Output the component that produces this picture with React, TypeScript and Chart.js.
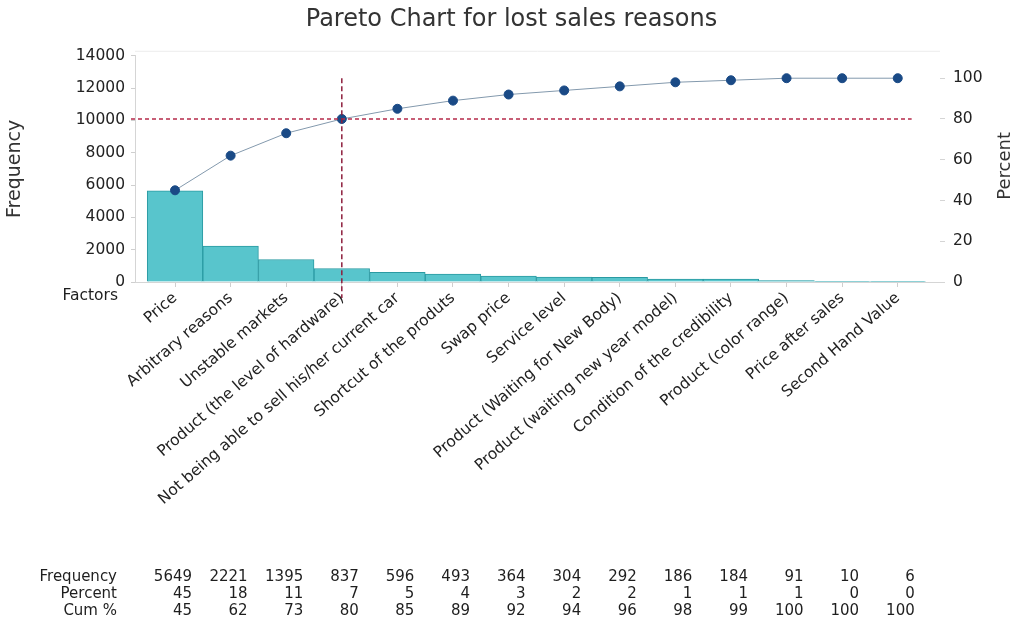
import React, { useEffect, useRef } from "react";
import { Chart, registerables } from "chart.js";

Chart.register(...registerables);

const categories = [
  "Price",
  "Arbitrary reasons",
  "Unstable markets",
  "Product (the level of hardware)",
  "Not being able to sell his/her current car",
  "Shortcut of the produts",
  "Swap price",
  "Service level",
  "Product (Waiting for New Body)",
  "Product (waiting new year model)",
  "Condition of the credibility",
  "Product (color range)",
  "Price after sales",
  "Second Hand Value",
];
const frequency = [5649, 2221, 1395, 837, 596, 493, 364, 304, 292, 186, 184, 91, 10, 6];
const percent = [45, 18, 11, 7, 5, 4, 3, 2, 2, 1, 1, 1, 0, 0];
const cumPercent = [45, 62, 73, 80, 85, 89, 92, 94, 96, 98, 99, 100, 100, 100];
const freqTicks = { min: 0, max: 14000, step: 2000 };
const pctTicks = { min: 0, max: 111, step: 20 };
const thresholdPct = 80;
const thresholdIndex = 3;
const tableRows = ["Frequency", "Percent", "Cum %"];

const FONT = "'DejaVu Sans', sans-serif";

export default function App() {
  const ref = useRef<HTMLCanvasElement | null>(null);

  useEffect(() => {
    if (!ref.current) return;
    Chart.defaults.font.family = FONT;

    const overlay = {
      id: "overlay",
      afterDatasetsDraw(chart: any) {
        const { ctx, chartArea } = chart;
        const x = chart.scales.x;
        const y2 = chart.scales.y2;
        ctx.save();
        const hy = y2.getPixelForValue(thresholdPct);
        ctx.strokeStyle = "#b52a4a";
        ctx.lineWidth = 1.5;
        ctx.setLineDash([4, 3]);
        ctx.beginPath();
        ctx.moveTo(chartArea.left - 4, hy);
        ctx.lineTo(x.getPixelForValue(categories.length - 0.75), hy);
        ctx.stroke();
        const vx = x.getPixelForValue(thresholdIndex);
        ctx.strokeStyle = "#8e1f3e";
        ctx.setLineDash([5, 3]);
        ctx.beginPath();
        ctx.moveTo(vx, y2.getPixelForValue(100));
        ctx.lineTo(vx, chartArea.bottom + 16);
        ctx.stroke();
        ctx.restore();
      },
      afterDraw(chart: any) {
        const { ctx, chartArea } = chart;
        const x = chart.scales.x;
        ctx.save();
        ctx.fillStyle = "#1e1e1e";
        ctx.font = `15.5px ${FONT}`;
        ctx.textAlign = "right";
        ctx.textBaseline = "middle";
        ctx.fillText("Factors", 118, chartArea.bottom + 14);
        ctx.save();
        ctx.translate(1005, (chartArea.top + chartArea.bottom) / 2 - 3);
        ctx.rotate(-Math.PI / 2);
        ctx.textAlign = "center";
        ctx.font = `18px ${FONT}`;
        ctx.fillStyle = "#333";
        ctx.fillText("Percent", 0, 0);
        ctx.restore();
        const rowsData = [frequency, percent, cumPercent];
        const rowY = [577, 594, 611];
        ctx.font = `15px ${FONT}`;
        tableRows.forEach((label, r) => {
          ctx.textAlign = "right";
          ctx.fillText(label, 117, rowY[r]);
          rowsData[r].forEach((v, i) => {
            ctx.fillText(String(v), x.getPixelForValue(i) + 17, rowY[r]);
          });
        });
        ctx.strokeStyle = "#ececec";
        ctx.lineWidth = 1;
        ctx.beginPath();
        ctx.moveTo(chartArea.left, chartArea.top - 4.5);
        ctx.lineTo(chartArea.right, chartArea.top - 4.5);
        ctx.stroke();
        ctx.restore();
      },
    };

    const chart = new Chart(ref.current, {
      type: "bar",
      data: {
        datasets: [
          {
            type: "line",
            label: "Cum %",
            data: cumPercent.map((v, i) => ({ x: i, y: v })),
            yAxisID: "y2",
            xAxisID: "x",
            borderColor: "#8399ad",
            borderWidth: 1,
            pointRadius: 4.5,
            pointBackgroundColor: "#1a4a86",
            pointBorderColor: "#1a4a86",
            tension: 0,
            order: 0,
          } as any,
          {
            type: "bar",
            label: "Frequency",
            data: frequency.map((v, i) => ({ x: i, y: v })),
            yAxisID: "y",
            xAxisID: "x",
            backgroundColor: "#58c5cc",
            borderColor: "#2a9aa2",
            borderWidth: 1,
            barPercentage: 1,
            categoryPercentage: 1,
            order: 1,
          } as any,
        ],
      },
      options: {
        responsive: false,
        animation: false,
        layout: { padding: 0 },
        plugins: {
          legend: { display: false },
          tooltip: { enabled: false },
          title: {
            display: true,
            text: "Pareto Chart for lost sales reasons",
            color: "#333",
            font: { size: 24, family: FONT, weight: "normal" },
            padding: { top: 5, bottom: 22 },
          },
        },
        scales: {
          x: {
            type: "linear",
            min: -0.72,
            max: categories.length - 0.24,
            offset: false,
            afterFit: (s: any) => {
              s.height = 351;
            },
            afterBuildTicks: (s: any) => {
              s.ticks = categories.map((_, i) => ({ value: i }));
            },
            ticks: {
              autoSkip: false,
              minRotation: 41,
              maxRotation: 41,
              padding: 2,
              color: "#222",
              font: { size: 15.5, family: FONT },
              callback: (v: any) => categories[v] ?? "",
            },
            grid: { display: true, drawOnChartArea: false, offset: false, tickLength: 5, color: "#cfcfcf" },
            border: { display: true, color: "#d5d5d5" },
          } as any,
          y: {
            type: "linear",
            position: "left",
            min: freqTicks.min,
            max: freqTicks.max,
            afterFit: (s: any) => {
              s.width = 135;
            },
            ticks: {
              stepSize: freqTicks.step,
              padding: 6,
              color: "#222",
              font: { size: 15.5, family: FONT },
              callback: (v: any) => String(v),
            },
            grid: { display: true, drawOnChartArea: false, tickLength: 4, color: "#cfcfcf" },
            border: { display: true, color: "#d5d5d5" },
            title: {
              display: true,
              text: "Frequency",
              color: "#333",
              font: { size: 19, family: FONT },
              padding: { top: 4, bottom: 0 },
            },
          } as any,
          y2: {
            type: "linear",
            position: "right",
            min: pctTicks.min,
            max: pctTicks.max,
            afterFit: (s: any) => {
              s.width = 83;
            },
            ticks: {
              stepSize: pctTicks.step,
              includeBounds: false,
              padding: 8,
              color: "#222",
              font: { size: 15.5, family: FONT },
            },
            grid: { display: true, drawOnChartArea: false, tickLength: 5, color: "#d5d5d5" },
            border: { display: false },
          } as any,
        },
      },
      plugins: [overlay],
    });
    return () => chart.destroy();
  }, []);

  return (
    <div style={{ position: "fixed", left: 0, top: 0, width: 1023, height: 633, background: "#fff" }}>
      <canvas ref={ref} width={1023} height={633} />
    </div>
  );
}
